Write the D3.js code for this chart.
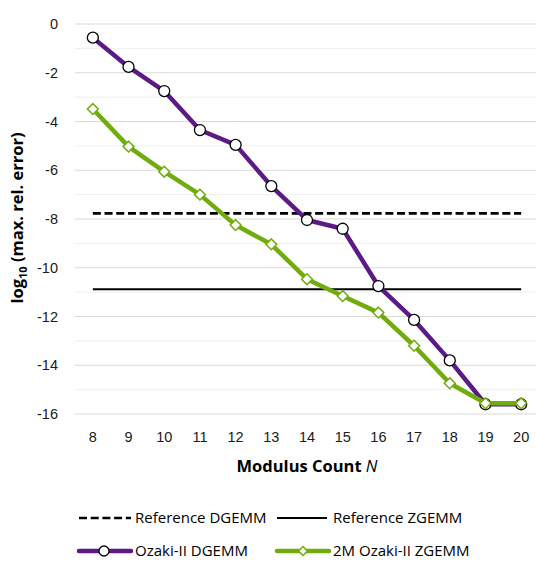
<!DOCTYPE html>
<html>
<head>
<meta charset="utf-8">
<script src="https://cdn.jsdelivr.net/npm/d3@7"></script>
<style>
    body { margin: 0; background: #fff; }
    svg { display: block; }
</style>
</head>
<body>
<div id="chart"></div>
<script>
// modulus counts on the x axis
const moduli = [8, 9, 10, 11, 12, 13, 14, 15, 16, 17, 18, 19, 20];

// log10 of max relative error
const ozakiDgemm = [-0.56, -1.76, -2.75, -4.35, -4.96, -6.65, -8.04, -8.40, -10.75, -12.14, -13.80, -15.60, -15.60];
const ozakiZgemm = [-3.49, -5.03, -6.06, -7.00, -8.25, -9.04, -10.47, -11.16, -11.84, -13.20, -14.74, -15.56, -15.56];

// reference levels
const refDgemm = -7.77;
const refZgemm = -10.88;

const yTicks = [0, -2, -4, -6, -8, -10, -12, -14, -16];

const purple = "#5b1a86";
const green = "#6fac0c";

const W = 536, H = 563;

let svg = d3.select("#chart")
    .append("svg")
    .attr("width", W)
    .attr("height", H);

let x = d3.scaleBand()
    .domain(moduli)
    .range([75, 539]);

let y = d3.scaleLinear()
    .domain([-16, 0])
    .range([414, 24]);

let cx = d => x(d) + x.bandwidth() / 2;

// gridlines, minor then major
svg.append("g")
    .selectAll("line")
    .data(d3.range(-15, 0, 2))
    .enter()
    .append("line")
    .attr("x1", 75).attr("x2", 536)
    .attr("y1", d => y(d)).attr("y2", d => y(d))
    .attr("stroke", "#efefef")
    .attr("stroke-width", 1);

svg.append("g")
    .selectAll("line")
    .data(yTicks)
    .enter()
    .append("line")
    .attr("x1", 75).attr("x2", 536)
    .attr("y1", d => y(d)).attr("y2", d => y(d))
    .attr("stroke", "#d9d9d9")
    .attr("stroke-width", 1);

// y tick labels
let yAxis = svg.append("g")
    .attr("transform", "translate(58,0)")
    .call(d3.axisLeft(y).tickValues(yTicks).tickSize(0).tickPadding(0).tickFormat(d => d === 0 ? "0" : "-" + Math.abs(d)));
yAxis.select(".domain").remove();
yAxis.selectAll("text")
    .attr("font-family", "Liberation Sans, Arial, sans-serif")
    .attr("font-size", "14.5px")
    .attr("fill", "#1a1a1a");

// x tick labels
let xAxis = svg.append("g")
    .attr("transform", "translate(0,432)")
    .call(d3.axisBottom(x).tickSize(0).tickPadding(0));
xAxis.select(".domain").remove();
xAxis.selectAll("text")
    .attr("font-family", "Liberation Sans, Arial, sans-serif")
    .attr("font-size", "14.5px")
    .attr("fill", "#1a1a1a");

// reference lines
svg.append("line")
    .attr("x1", cx(moduli[0])).attr("x2", cx(moduli[moduli.length - 1]))
    .attr("y1", y(refDgemm)).attr("y2", y(refDgemm))
    .attr("stroke", "#000")
    .attr("stroke-width", 2.6)
    .attr("stroke-dasharray", "8,3.7");

svg.append("line")
    .attr("x1", cx(moduli[0])).attr("x2", cx(moduli[moduli.length - 1]))
    .attr("y1", y(refZgemm)).attr("y2", y(refZgemm))
    .attr("stroke", "#000")
    .attr("stroke-width", 2);

let line = d3.line()
    .x((d, i) => cx(moduli[i]))
    .y(d => y(d));

// Ozaki-II DGEMM
svg.append("path")
    .datum(ozakiDgemm)
    .attr("d", line)
    .attr("fill", "none")
    .attr("stroke", purple)
    .attr("stroke-width", 4.5)
    .attr("stroke-linejoin", "round");

svg.append("g")
    .selectAll("circle")
    .data(ozakiDgemm)
    .enter()
    .append("circle")
    .attr("cx", (d, i) => cx(moduli[i]))
    .attr("cy", d => y(d))
    .attr("r", 5.5)
    .attr("fill", "#fff")
    .attr("stroke", "#000")
    .attr("stroke-width", 1.3);

// 2M Ozaki-II ZGEMM
svg.append("path")
    .datum(ozakiZgemm)
    .attr("d", line)
    .attr("fill", "none")
    .attr("stroke", green)
    .attr("stroke-width", 4.5)
    .attr("stroke-linejoin", "round");

let diamond = d3.symbol().type(d3.symbolDiamond2).size(75);

svg.append("g")
    .selectAll("path")
    .data(ozakiZgemm)
    .enter()
    .append("path")
    .attr("d", diamond)
    .attr("transform", (d, i) => `translate(${cx(moduli[i])},${y(d)})`)
    .attr("fill", "#fff")
    .attr("stroke", green)
    .attr("stroke-width", 1.5);

// axis titles
svg.append("text")
    .attr("x", 307)
    .attr("y", 472)
    .attr("text-anchor", "middle")
    .attr("font-family", "Open Sans, sans-serif")
    .attr("font-weight", 700)
    .attr("font-size", "16.5px")
    .attr("fill", "#000")
    .html('Modulus Count <tspan font-style="italic" font-weight="400">N</tspan>');

svg.append("text")
    .attr("transform", "translate(23,218) rotate(-90)")
    .attr("text-anchor", "middle")
    .attr("font-family", "Open Sans, sans-serif")
    .attr("font-weight", 700)
    .attr("font-size", "16.5px")
    .attr("fill", "#000")
    .html('log<tspan font-size="11px" dy="4">10</tspan><tspan dy="-4"> (max. rel. error)</tspan>');

// legend
let legend = svg.append("g")
    .attr("font-family", "Open Sans, sans-serif")
    .attr("font-size", "15px")
    .attr("fill", "#000");

let items = [
    {label: "Reference DGEMM", x: 79, y: 518, type: "dash"},
    {label: "Reference ZGEMM", x: 277, y: 518, type: "solid"},
    {label: "Ozaki-II DGEMM", x: 79, y: 551, type: "circle"},
    {label: "2M Ozaki-II ZGEMM", x: 277, y: 551, type: "diamond"}
];

items.forEach(it => {
    let g = legend.append("g").attr("transform", `translate(${it.x},${it.y})`);
    if (it.type === "dash") {
        g.append("line").attr("x1", 0).attr("x2", 52)
            .attr("stroke", "#000").attr("stroke-width", 2.6).attr("stroke-dasharray", "8,3.7");
    } else if (it.type === "solid") {
        g.append("line").attr("x1", 0).attr("x2", 50)
            .attr("stroke", "#000").attr("stroke-width", 2);
    } else if (it.type === "circle") {
        g.append("line").attr("x1", 0).attr("x2", 52)
            .attr("stroke", purple).attr("stroke-width", 4.5).attr("stroke-linecap", "round");
        g.append("circle").attr("cx", 25).attr("r", 5)
            .attr("fill", "#fff").attr("stroke", "#000").attr("stroke-width", 1.3);
    } else {
        g.append("line").attr("x1", 0).attr("x2", 52)
            .attr("stroke", green).attr("stroke-width", 4.5).attr("stroke-linecap", "round");
        g.append("path").attr("d", d3.symbol().type(d3.symbolDiamond2).size(50))
            .attr("transform", "translate(26,0)")
            .attr("fill", "#fff").attr("stroke", green).attr("stroke-width", 1.5);
    }
    g.append("text")
        .attr("x", 56)
        .attr("dy", "0.35em")
        .text(it.label);
});
</script>
</body>
</html>
